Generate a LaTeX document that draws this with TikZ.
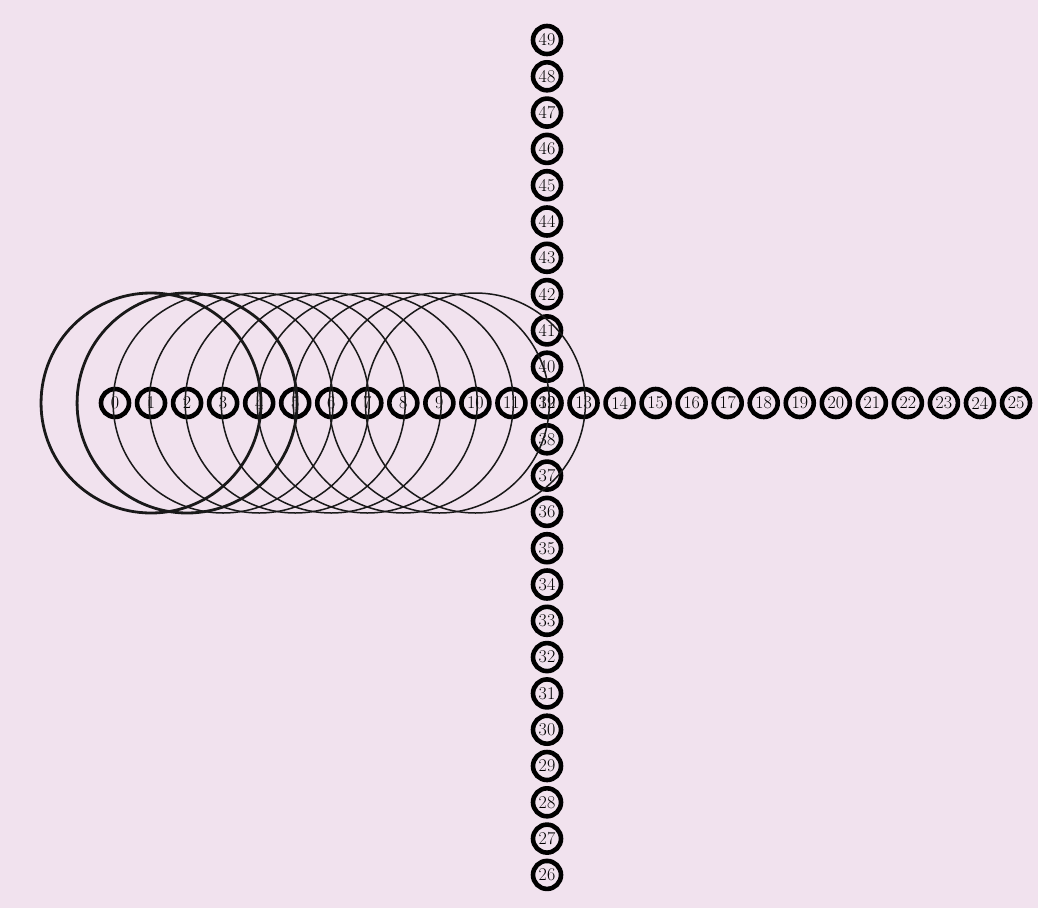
\documentclass[tikz,border=0pt]{standalone}
\definecolor{bgpink}{RGB}{241,226,238}
\begin{document}
\begin{tikzpicture}[x=1pt,y=-1pt,
  nd/.style={circle,draw=black,line width=4.6pt,minimum size=28pt,inner sep=0pt,font=\fontsize{18}{18}\selectfont},
  ring/.style={draw=black!90,line width=1.5pt},
  ringthick/.style={ring,line width=2.8pt}]
\fill[bgpink] (0,0) rectangle (1038,908);
\useasboundingbox (0,0) rectangle (1038,908);
% vertical column (39 sits under 12)
\foreach \k in {26,...,49}
  \node[nd] (n\k) at (547,{403+(39-\k)*36.3}) {\k};
% horizontal row
\foreach \i in {0,...,25}
  \node[nd] (n\i) at ({115+36.04*\i},403) {\i};
% large circles centred on nodes 1..10
\foreach \i in {1,2}
  \draw[ringthick] (n\i.center) circle[radius=110pt];
\foreach \i in {3,...,10}
  \draw[ring] (n\i.center) circle[radius=110pt];
\end{tikzpicture}
\end{document}
